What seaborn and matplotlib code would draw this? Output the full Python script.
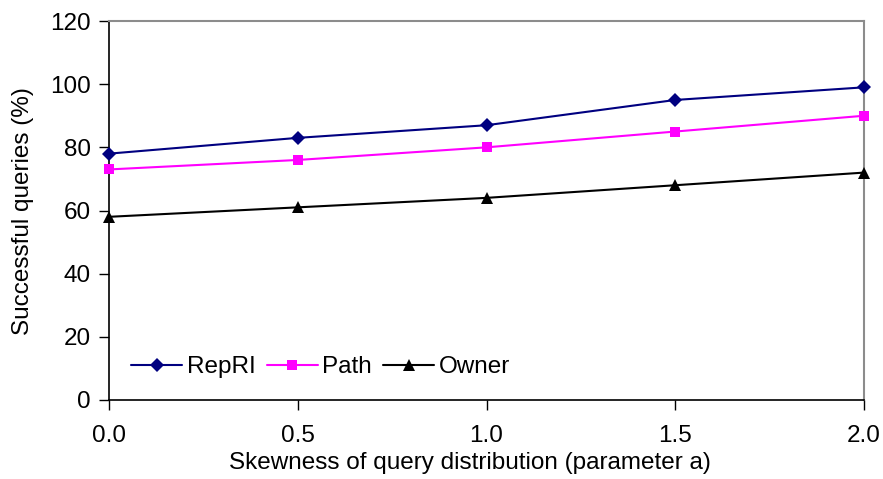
import matplotlib
matplotlib.use("Agg")
import matplotlib.pyplot as plt
import seaborn as sns
import pandas as pd

skew = [0.0, 0.5, 1.0, 1.5, 2.0]
repri = [78, 83, 87, 95, 99]
path = [73, 76, 80, 85, 90]
owner = [58, 61, 64, 68, 72]
series_names = ["RepRI", "Path", "Owner"]
x_ticks = ["0.0", "0.5", "1.0", "1.5", "2.0"]
y_ticks = [0, 20, 40, 60, 80, 100, 120]

sns.set_style("white")
plt.rcParams['font.family'] = ['Liberation Sans', 'DejaVu Sans']
plt.rcParams['text.color'] = 'black'
plt.rcParams['axes.labelcolor'] = 'black'

df = pd.DataFrame({
    "x": skew * 3,
    "y": repri + path + owner,
    "series": sum([[n] * len(skew) for n in series_names], []),
})

FS = 17.5
fig = plt.figure(figsize=(8.83, 4.79), dpi=100)
ax = fig.add_axes([109/883, 79/479, (864-109)/883, (400-21)/479])

colors = {"RepRI": "#000080", "Path": "#FF00FF", "Owner": "#000000"}
markers = {"RepRI": "D", "Path": "s", "Owner": "^"}
sizes = {"RepRI": 7.5, "Path": 7.5, "Owner": 9}
for name in series_names:
    sub = df[df["series"] == name]
    sns.lineplot(data=sub, x="x", y="y", ax=ax, color=colors[name], marker=markers[name],
                 markersize=sizes[name], markeredgewidth=0, linewidth=1.5, label=name,
                 clip_on=False, zorder=3)

ax.set_xlim(0, 2.0)
ax.set_ylim(0, 120)
ax.set_xticks(skew)
ax.set_xticklabels(x_ticks)
ax.set_yticks(y_ticks)
ax.tick_params(axis="both", direction="out", length=7, width=1, labelsize=FS, colors="black",
               bottom=True, left=True)
ax.tick_params(axis="x", pad=11)
ax.tick_params(axis="y", pad=6)
for s in ["left", "bottom"]:
    ax.spines[s].set_color("black")
    ax.spines[s].set_linewidth(1.2)
for s in ["top", "right"]:
    ax.spines[s].set_color("#8c8c8c")
    ax.spines[s].set_linewidth(1.5)

ax.set_xlabel("Skewness of query distribution (parameter a)", fontsize=FS, va="center")
ax.xaxis.set_label_coords((470-109)/755, (400-463)/379)
ax.set_ylabel("Successful queries (%)", fontsize=FS, va="center")
ax.yaxis.set_label_coords((23-109)/755, (400-211)/379)

ax.legend(loc="center left", bbox_to_anchor=((131-109)/755, (400-367)/379), ncol=3, frameon=False,
          fontsize=FS, handlelength=2.1, columnspacing=0.45, handletextpad=0.2,
          borderaxespad=0, borderpad=0)

fig.savefig("out.png", dpi=100)
